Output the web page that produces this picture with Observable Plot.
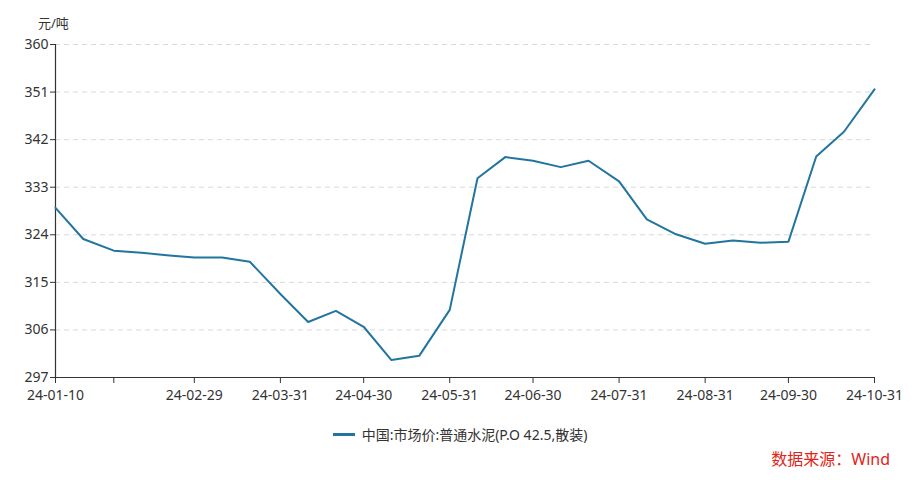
<!DOCTYPE html>
<html>
<head>
<meta charset="utf-8">
<script src="https://cdn.jsdelivr.net/npm/d3@7"></script>
<script src="https://cdn.jsdelivr.net/npm/@observablehq/plot@0.6"></script>
<style>
  html, body { margin: 0; padding: 0; background: #fff; }
  body { width: 920px; height: 480px; font-family: "Noto Sans", "Noto Sans CJK SC", sans-serif; position: relative; overflow: hidden; }
  #unit { position: absolute; top: 13px; left: 38px; font-size: 13px; color: #333; }
  #legend { position: absolute; top: 423px; left: 0; width: 920px; text-align: center; font-size: 14px; color: #333; }
  #legend .sw { display: inline-block; width: 22px; height: 3px; background: #21759f; vertical-align: middle; margin-right: 7px; }
  #legend span { vertical-align: middle; }
  #source { position: absolute; top: 446px; right: 30px; font-size: 16px; color: #e2231a; }
</style>
</head>
<body>
<div id="unit"></div>
<div id="chart"></div>
<div id="legend"><i class="sw"></i><span></span></div>
<div id="source"></div>
<script>
const seriesName = "中国:市场价:普通水泥(P.O 42.5,散装)";
const unitLabel = "元/吨";
const sourceText = "数据来源：Wind";

const dates = [
  "2024-01-10","2024-01-20","2024-01-31","2024-02-10","2024-02-20","2024-02-29",
  "2024-03-10","2024-03-20","2024-03-31","2024-04-10","2024-04-20","2024-04-30",
  "2024-05-10","2024-05-20","2024-05-31","2024-06-10","2024-06-20","2024-06-30",
  "2024-07-10","2024-07-20","2024-07-31","2024-08-10","2024-08-20","2024-08-31",
  "2024-09-10","2024-09-20","2024-09-30","2024-10-10","2024-10-20","2024-10-31"
];
const values = [
  329.1, 323.2, 321.0, 320.6, 320.1, 319.7,
  319.7, 318.9, 312.8, 307.5, 309.6, 306.6,
  300.3, 301.1, 309.8, 334.7, 338.7, 338.0,
  336.8, 338.0, 334.1, 326.9, 324.2, 322.3,
  322.9, 322.5, 322.7, 338.8, 343.5, 351.5
];
const xTickDates = ["2024-01-10","2024-01-31","2024-02-29","2024-03-31","2024-04-30","2024-05-31",
  "2024-06-30","2024-07-31","2024-08-31","2024-09-30","2024-10-31"];
const xTickHidden = ["2024-01-31"];
const yTicks = [297, 306, 315, 324, 333, 342, 351, 360];

const parse = d3.utcParse("%Y-%m-%d");
const data = dates.map((d, i) => ({date: parse(d), value: values[i]}));
const fmt = d3.utcFormat("%y-%m-%d");
const iso = d3.utcFormat("%Y-%m-%d");
const hidden = new Set(xTickHidden);

const chart = Plot.plot({
  width: 920,
  height: 410,
  marginLeft: 55,
  marginRight: 46,
  marginTop: 44,
  marginBottom: 33,
  style: {fontFamily: '"Noto Sans", "Noto Sans CJK SC", sans-serif', fontSize: "14px", color: "#333", background: "#fff"},
  x: {type: "utc", domain: [parse(dates[0]), parse(dates[dates.length - 1])]},
  y: {domain: [297, 360]},
  marks: [
    Plot.gridY(yTicks, {stroke: "#d9d9d9", strokeOpacity: 1, strokeDasharray: "5,4"}),
    Plot.axisY(yTicks, {tickSize: 5, tickPadding: 2, label: null, fontSize: 14}),
    Plot.ruleX([parse(dates[0])], {stroke: "#333", strokeWidth: 1.2}),
    Plot.axisX(xTickDates.map(parse), {tickSize: 6, tickPadding: 7, label: null, fontSize: 14,
      tickFormat: d => hidden.has(iso(d)) ? "" : fmt(d)}),
    Plot.ruleY([297], {stroke: "#333", strokeWidth: 1.2}),
    Plot.line(data, {x: "date", y: "value", stroke: "#21759f", strokeWidth: 2})
  ]
});
document.getElementById("chart").appendChild(chart);
document.getElementById("unit").textContent = unitLabel;
document.querySelector("#legend span").textContent = seriesName;
document.getElementById("source").textContent = sourceText;
</script>
</body>
</html>
